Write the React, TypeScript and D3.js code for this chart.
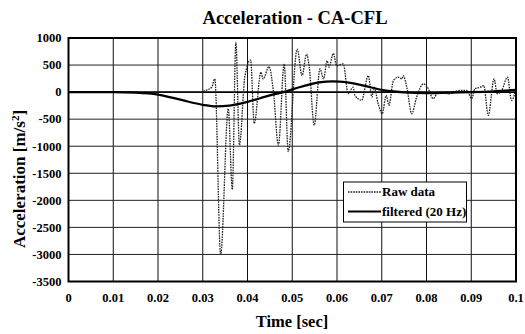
import React from 'react';
import * as d3 from 'd3';

// raw accelerometer trace (time in sec, acceleration in m/s^2)
const rawTime = [
  0, 0.01, 0.02, 0.0295, 0.0306, 0.032, 0.0327, 0.034, 0.0357, 0.0366, 0.0374, 0.0382,
  0.0394, 0.0407, 0.0415, 0.043, 0.0435, 0.0448, 0.0458, 0.0469, 0.0482, 0.0491, 0.0511,
  0.0522, 0.0532, 0.0538, 0.0549, 0.0562, 0.057, 0.0578, 0.0582, 0.0592, 0.0599, 0.0614,
  0.0625, 0.0636, 0.064, 0.0655, 0.067, 0.0678, 0.0683, 0.0692, 0.0701, 0.071, 0.0716,
  0.0726, 0.0737, 0.0745, 0.0748, 0.0756, 0.0767, 0.0778, 0.0793, 0.0802, 0.0815, 0.0826,
  0.0849, 0.0875, 0.089, 0.0901, 0.0908, 0.092, 0.0928, 0.0938, 0.0951, 0.0958, 0.0968,
  0.0981, 0.099, 0.1,
];
const rawValue = [
  0, 0, 0, 0, 30, 90, 244, -3000, -306, -1800, 917, -980,
  280, 592, -580, 367, 244, 470, 5, -980, 520, -1100, 795,
  305, 700, 460, -613, 428, 244, 580, 460, 715, 490, 520,
  -30, 90, -60, -150, 305, -90, 90, -215, -400, -60, -245,
  213, 275, 244, 305, 90, -400, -90, 152, 90, -120, 0,
  -30, 30, 30, -120, 60, 90, 120, -430, 244, -30, 30,
  275, -150, 60,
];

// 20 Hz low-pass filtered trace
const filtTime = [
  0, 0.01, 0.015, 0.02, 0.025, 0.03, 0.033, 0.036, 0.04, 0.045, 0.048, 0.052, 0.056,
  0.059, 0.062, 0.066, 0.07, 0.075, 0.08, 0.085, 0.09, 0.095, 0.1,
];
const filtValue = [
  0, 0, -10, -45, -140, -235, -265, -250, -180, -60, 0, 100, 180,
  200, 185, 120, 40, -5, -20, -10, 0, 15, 40,
];

const xTicks = [0, 0.01, 0.02, 0.03, 0.04, 0.05, 0.06, 0.07, 0.08, 0.09, 0.1];
const yTicks = [1000, 500, 0, -500, -1000, -1500, -2000, -2500, -3000, -3500];

const W = 525;
const H = 334;
const m = { left: 68.5, right: 9, top: 38, bottom: 52.5 };
const txt = {
  fontFamily: "'Liberation Serif', 'Times New Roman', 'DejaVu Serif', serif",
  fontWeight: 700,
};

export default function App() {
  const x = d3.scaleLinear().domain([0, 0.1]).range([m.left, W - m.right]);
  const y = d3.scaleLinear().domain([-3500, 1000]).range([H - m.bottom, m.top]);

  const rawLine = d3
    .line<number>()
    .x((_, i) => x(rawTime[i]))
    .y((d) => y(d))
    .curve(d3.curveMonotoneX);
  const filtLine = d3
    .line<number>()
    .x((_, i) => x(filtTime[i]))
    .y((d) => y(d))
    .curve(d3.curveMonotoneX);

  const x0 = x(0), x1 = x(0.1), y0 = y(1000), y1 = y(-3500);

  return (
    <svg width={W} height={H} style={{ position: 'absolute', left: 0, top: 0, background: '#fff' }}>
      <text x={295} y={24} textAnchor="middle" fontSize={18.5} style={txt}>
        Acceleration - CA-CFL
      </text>

      {/* grid */}
      {xTicks.map((t) => (
        <line key={'gx' + t} x1={x(t)} x2={x(t)} y1={y0} y2={y1} stroke="#111" strokeWidth={1} />
      ))}
      {yTicks.map((v) => (
        <line
          key={'gy' + v}
          x1={x0}
          x2={x1}
          y1={y(v)}
          y2={y(v)}
          stroke={v === 0 ? '#000' : '#222'}
          strokeWidth={v === 0 ? 1.6 : 1}
        />
      ))}

      {/* series */}
      <path d={rawLine(rawValue) || ''} fill="none" stroke="#222" strokeWidth={1.3} strokeDasharray="1.6,1" />
      <path d={filtLine(filtValue) || ''} fill="none" stroke="#000" strokeWidth={2.2} />

      <rect x={x0} y={y0} width={x1 - x0} height={y1 - y0} fill="none" stroke="#000" strokeWidth={2} />

      {/* axes labels */}
      {yTicks.map((v) => (
        <text key={'ty' + v} x={61.5} y={y(v) + 4.3} textAnchor="end" fontSize={12.5} style={txt}>
          {v}
        </text>
      ))}
      {xTicks.map((t) => (
        <text key={'tx' + t} x={x(t)} y={302} textAnchor="middle" fontSize={12.5} style={txt}>
          {t}
        </text>
      ))}
      <text x={292} y={327} textAnchor="middle" fontSize={16.5} style={txt}>
        Time [sec]
      </text>
      <text transform="translate(25,179) rotate(-90)" textAnchor="middle" fontSize={17} style={txt}>
        Acceleration [m/s<tspan dy={-6} fontSize={11}>2</tspan>
        <tspan dy={6}>]</tspan>
      </text>

      {/* legend */}
      <g>
        <rect x={343.5} y={182} width={123} height={40} fill="#fff" stroke="#000" strokeWidth={1} />
        <line x1={348} x2={381} y1={192} y2={192} stroke="#222" strokeWidth={1.3} strokeDasharray="1.6,1" />
        <text x={382} y={196} fontSize={13} style={txt}>Raw data</text>
        <line x1={348} x2={381} y1={211.5} y2={211.5} stroke="#000" strokeWidth={2} />
        <text x={382} y={215.5} fontSize={13} style={txt}>filtered (20 Hz)</text>
      </g>
    </svg>
  );
}
